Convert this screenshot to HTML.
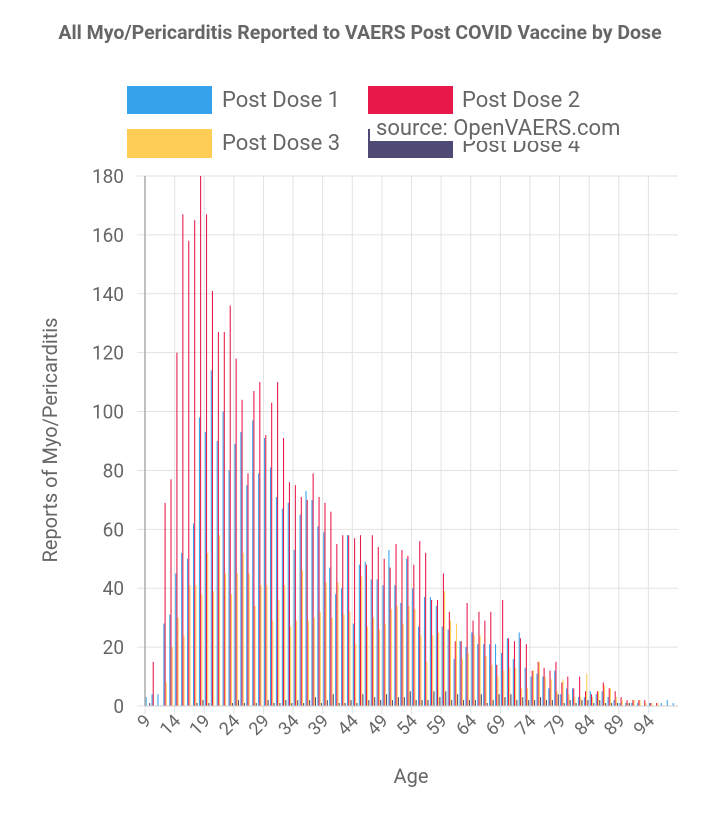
<!DOCTYPE html>
<html><head><meta charset="utf-8"><style>
body{margin:0;background:#fff;}
svg{display:block;font-family:"Roboto","Liberation Sans",sans-serif;}
</style></head><body>
<svg id="chart" width="720" height="824" xmlns="http://www.w3.org/2000/svg">
<text x="360" y="39" text-anchor="middle" font-size="19.5" font-weight="bold" fill="#666">All Myo/Pericarditis Reported to VAERS Post COVID Vaccine by Dose</text>
<g font-size="22" fill="#666">
<g><rect x="127" y="86" width="85" height="28" fill="#36a2eb"/><text x="222" y="107">Post Dose 1</text></g>
<g><rect x="368" y="86" width="85" height="28" fill="#e8194a"/><text x="462" y="107">Post Dose 2</text></g>
<g><rect x="127" y="129" width="85" height="29" fill="#ffcd56"/><text x="222" y="150">Post Dose 3</text></g>
<g><rect x="368" y="129" width="85" height="29" fill="#4d4a75"/><text x="462" y="152">Post Dose 4</text></g>
</g>
<g><rect x="370" y="114" width="310" height="27" fill="#fff"/><text x="376" y="135" font-size="22" fill="#666">source: OpenVAERS.com</text></g>
<g id="grid"></g>
<g id="bars"></g>
<g id="axes"></g>
<text transform="translate(57,440) rotate(-90)" text-anchor="middle" font-size="20" fill="#666">Reports of Myo/Pericarditis</text>
<text x="411" y="783" text-anchor="middle" font-size="20" fill="#666">Age</text>
</svg>
<script>
const ages = [];
for (let a = 9; a <= 98; a++) ages.push(a);
const dose1 = [3,4,4,28,31,45,52,50,62,98,93,114,90,100,80,89,93,75,97,79,91,81,71,
67,69,53,65,73,70,61,59,47,38,40,58,28,48,49,43,43,41,53,41,
35,50,40,27,37,37,34,27,26,16,22,20,25,21,21,21,21,18,23,16,25,13,10,11,
10,6,12,4,6,6,3,3,5,4,5,3,2,1,1,1,1,0,1,0,1,2,1];
const dose2 = [0,15,0,69,77,120,167,158,165,180,167,141,127,127,136,118,104,79,107,110,92,103,110,
91,76,75,71,70,79,71,69,66,55,58,58,57,58,48,58,54,50,47,55,
53,51,48,56,52,36,36,45,32,22,22,35,29,32,29,32,14,36,23,22,23,21,12,15,
13,12,15,8,10,6,10,5,4,5,8,6,5,3,2,2,2,2,1,1,0,0,0];
const dose3 = [0,0,0,8,20,30,24,41,41,38,52,39,58,45,38,45,52,45,34,41,41,29,36,
41,27,29,46,29,30,32,42,30,42,31,32,21,44,27,30,26,28,33,34,
28,34,33,24,15,24,25,39,29,28,16,18,24,24,17,14,10,12,13,13,6,6,12,15,
10,9,5,9,4,3,3,11,3,5,7,6,3,2,1,2,2,1,1,1,0,0,0];
const dose4 = [1,0,0,0,0,0,0,0,1,2,1,0,0,0,1,2,1,0,1,0,2,1,1,
2,1,2,1,2,3,1,2,4,1,1,2,1,4,2,3,2,4,2,3,
3,5,2,2,2,5,3,5,2,4,2,2,2,4,1,2,4,3,4,2,3,2,2,3,
2,2,4,1,2,1,2,2,1,2,1,1,1,0,1,0,0,0,0,0,0,0,0];
const yTicks = [0,20,40,60,80,100,120,140,160,180];
const series = [dose1, dose2, dose3, dose4];
const colors = ['#36a2eb','#e8194a','#ffcd56','#4d4a75'];
const names = ['dose-1','dose-2','dose-3','dose-4'];

const X0 = 145, X1 = 678, Y0 = 706, Y1 = 176, YMAX = 180;
const band = (X1 - X0) / ages.length;
const xBand = i => X0 + i * band;
const yScale = v => Y0 - (v / YMAX) * (Y0 - Y1);
const NS = 'http://www.w3.org/2000/svg';
function mk(tag, attrs, parent) {
  const e = document.createElementNS(NS, tag);
  for (const k in attrs) e.setAttribute(k, attrs[k]);
  parent.appendChild(e);
  return e;
}
const grid = document.getElementById('grid');
const bars = document.getElementById('bars');
const axes = document.getElementById('axes');

yTicks.forEach(t => {
  const y = yScale(t);
  const l = mk('line', {x1: X0 - 8, x2: X1, y1: y, y2: y, stroke: '#e2e2e2', 'stroke-width': 1}, grid);
  
  
  const tx = mk('text', {x: 124, y: y + 7, 'text-anchor': 'end', 'font-size': 19, fill: '#666'}, axes);
  tx.textContent = t;
  
  
});
ages.forEach((a, i) => {
  if (i % 5 !== 0) return;
  const x = xBand(i);
  const l = mk('line', {x1: x, x2: x, y1: Y1, y2: Y0 + 8, stroke: '#e2e2e2', 'stroke-width': 1}, grid);
  
  
  const cx = x + band / 2;
  const tx = mk('text', {x: cx + 4, y: Y0 + 16, 'text-anchor': 'end', 'font-size': 18, fill: '#666', transform: `rotate(-45 ${cx + 4} ${Y0 + 16})`}, axes);
  tx.textContent = a;
  
  
});
const ax = mk('line', {x1: X0, x2: X0, y1: Y1, y2: Y0, stroke: '#aaa', 'stroke-width': 1.5}, axes);


const bx = mk('line', {x1: X0, x2: X1, y1: Y0, y2: Y0, stroke: '#ccc', 'stroke-width': 1}, axes);



const inner = band * 0.8, bw = inner / 4 * 0.9;
series.forEach((s, k) => {
  s.forEach((v, i) => {
    const x = xBand(i) + band * 0.1 + k * inner / 4;
    const y = yScale(v);
    const r = mk('rect', {x: x, y: y, width: bw, height: Math.max(0, Y0 - y), fill: colors[k]}, bars);
    
    
  });
});
</script>
</body></html>
